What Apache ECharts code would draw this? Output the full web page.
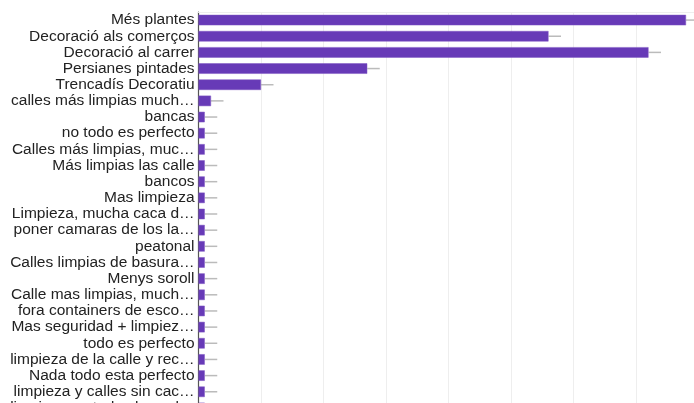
<!DOCTYPE html>
<html>
<head>
<meta charset="utf-8">
<script src="https://cdn.jsdelivr.net/npm/echarts@6/dist/echarts.min.js"></script>
<style>
html,body{margin:0;padding:0;overflow:hidden;background:#fff;}
#chart{width:720px;height:440px;}
</style>
</head>
<body>
<div id="chart"></div>
<script>
const categories = [
  "Més plantes",
  "Decoració als comerços",
  "Decoració al carrer",
  "Persianes pintades",
  "Trencadís Decoratiu",
  "calles más limpias mucha caca de perro",
  "bancas",
  "no todo es perfecto",
  "Calles más limpias, mucha caca",
  "Más limpias las calle",
  "bancos",
  "Mas limpieza",
  "Limpieza, mucha caca de perro",
  "poner camaras de los lados",
  "peatonal",
  "Calles limpias de basura y caca",
  "Menys soroll",
  "Calle mas limpias, mucha caca",
  "fora containers de escombraries",
  "Mas seguridad + limpieza en las calles",
  "todo es perfecto",
  "limpieza de la calle y recogida",
  "Nada todo esta perfecto",
  "limpieza y calles sin caca de perro",
  "limpieza en todas las calles del barrio"
];
const values = [78, 56, 72, 27, 10, 2, 1, 1, 1, 1, 1, 1, 1, 1, 1, 1, 1, 1, 1, 1, 1, 1, 1, 1, 1];
const errors = [2, 2, 2, 2, 2, 2, 2, 2, 2, 2, 2, 2, 2, 2, 2, 2, 2, 2, 2, 2, 2, 2, 2, 2, 2];
const xTicks = {min: 0, max: 80, interval: 10};

const chart = echarts.init(document.getElementById('chart'), null, {renderer: 'canvas'});
chart.setOption({
  animation: false,
  grid: {left: 198.5, right: 21.5, top: 12, bottom: 24, containLabel: false},
  xAxis: {
    type: 'value', position: 'top',
    min: xTicks.min, max: xTicks.max, interval: xTicks.interval,
    axisLabel: {show: false}, axisTick: {show: false},
    axisLine: {show: true, lineStyle: {color: '#eeeeee', width: 1}},
    splitLine: {show: true, lineStyle: {color: '#eeeeee', width: 1}}
  },
  yAxis: {
    type: 'category', data: categories, inverse: true,
    axisTick: {show: false},
    axisLine: {show: true, lineStyle: {color: '#555555', width: 1.2}},
    axisLabel: {
      interval: 0,
      fontFamily: 'Liberation Sans, Arial, sans-serif', fontSize: 15.5, color: '#222222',
      margin: 4, width: 188, overflow: 'truncate', ellipsis: '…'
    }
  },
  series: [
    {
      type: 'custom', z: 1,
      renderItem: function (params, api) {
        const v = api.value(1), e = api.value(2), idx = api.value(0);
        const p1 = api.coord([v, idx]);
        const p2 = api.coord([v + e, idx]);
        return {type: 'line', shape: {x1: p1[0], y1: p1[1], x2: p2[0], y2: p2[1]},
          style: {stroke: '#bbbbbb', lineWidth: 1.5}};
      },
      encode: {x: 1, y: 0},
      data: categories.map((c, i) => [i, values[i], errors[i]])
    },
    {
      type: 'bar', z: 2, data: values, barWidth: 10.5,
      itemStyle: {color: '#673ab7', borderColor: '#7e57c2', borderWidth: 0.5}
    }
  ]
});
</script>
</body>
</html>
